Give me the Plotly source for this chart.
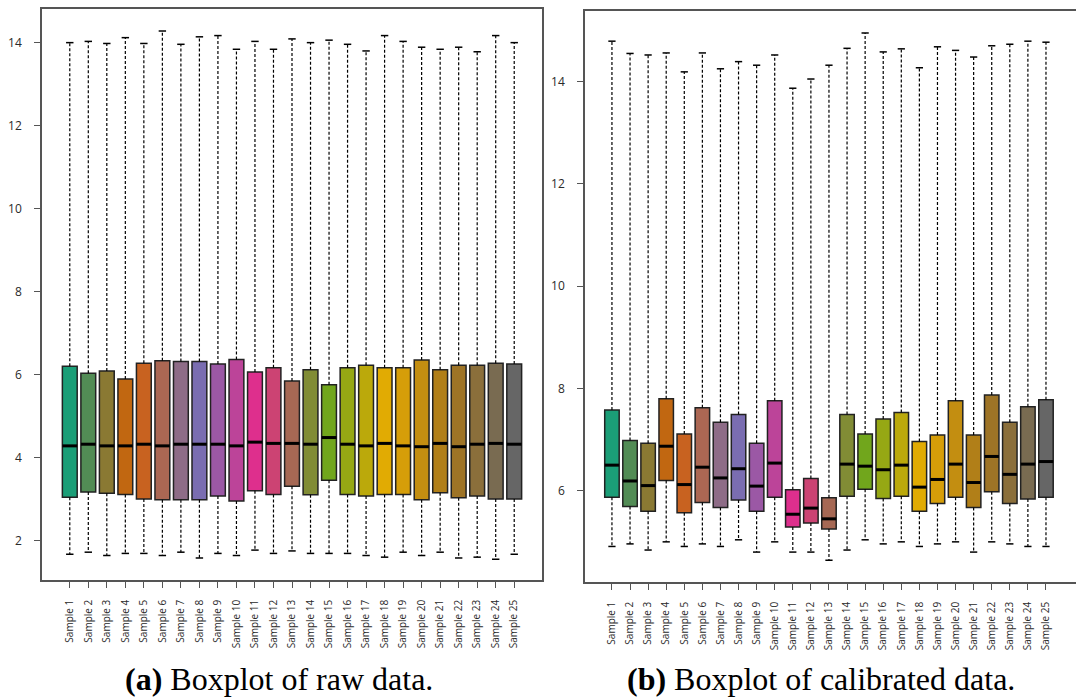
import plotly.graph_objects as go

samples = [f"Sample {i}" for i in range(1, 26)]
positions = list(range(1, 26))

# Raw data (panel a)
raw_upper = [14.00, 14.03, 13.98, 14.12, 13.98, 14.28, 13.96, 14.14, 14.17, 13.84,
             14.03, 13.84, 14.09, 14.00, 14.06, 13.96, 13.80, 14.17, 14.03, 13.89,
             13.84, 13.89, 13.78, 14.17, 14.00]
raw_q3 = [6.21, 6.04, 6.09, 5.90, 6.28, 6.34, 6.32, 6.32, 6.26, 6.37,
          6.07, 6.17, 5.85, 6.12, 5.76, 6.17, 6.23, 6.17, 6.17, 6.36,
          6.12, 6.23, 6.23, 6.28, 6.26]
raw_median = [4.29, 4.33, 4.29, 4.29, 4.33, 4.29, 4.33, 4.33, 4.33, 4.29,
              4.38, 4.35, 4.35, 4.33, 4.49, 4.33, 4.29, 4.35, 4.29, 4.27,
              4.35, 4.27, 4.33, 4.35, 4.33]
raw_q1 = [3.05, 3.18, 3.15, 3.12, 3.01, 2.99, 2.99, 2.99, 3.08, 2.96,
          3.21, 3.12, 3.32, 3.11, 3.46, 3.12, 3.08, 3.12, 3.12, 2.99,
          3.16, 3.04, 3.08, 3.01, 3.01]
raw_lower = [1.68, 1.73, 1.65, 1.70, 1.70, 1.65, 1.73, 1.59, 1.70, 1.65,
             1.78, 1.70, 1.76, 1.70, 1.70, 1.70, 1.65, 1.61, 1.73, 1.65,
             1.73, 1.59, 1.61, 1.56, 1.68]

# Calibrated data (panel b)
cal_upper = [14.79, 14.55, 14.52, 14.56, 14.19, 14.56, 14.25, 14.39, 14.32, 14.52,
             13.87, 14.05, 14.32, 14.65, 14.95, 14.58, 14.64, 14.27, 14.68, 14.61,
             14.48, 14.70, 14.73, 14.79, 14.77]
cal_q3 = [7.58, 6.98, 6.93, 7.80, 7.11, 7.62, 7.34, 7.49, 6.93, 7.76,
          6.02, 6.24, 5.86, 7.49, 7.11, 7.40, 7.53, 6.96, 7.09, 7.76,
          7.09, 7.87, 7.34, 7.64, 7.78]
cal_median = [6.50, 6.19, 6.10, 6.87, 6.12, 6.46, 6.25, 6.43, 6.09, 6.54,
              5.54, 5.66, 5.45, 6.52, 6.48, 6.41, 6.50, 6.07, 6.22, 6.52,
              6.16, 6.67, 6.32, 6.52, 6.57]
cal_q1 = [5.87, 5.69, 5.60, 6.20, 5.57, 5.77, 5.67, 5.82, 5.60, 5.87,
          5.29, 5.37, 5.25, 5.89, 6.03, 5.85, 5.89, 5.60, 5.75, 5.87,
          5.67, 5.98, 5.75, 5.84, 5.87]
cal_lower = [4.91, 4.96, 4.84, 5.00, 4.91, 4.96, 4.91, 5.04, 4.80, 5.00,
             4.80, 4.80, 4.64, 4.84, 5.04, 4.96, 5.00, 4.91, 4.96, 5.00,
             4.80, 5.00, 4.96, 4.91, 4.91]

raw_yticks = [2, 4, 6, 8, 10, 12, 14]
cal_yticks = [6, 8, 10, 12, 14]

# Dark2 colour ramp (25 colours)
dark2 = ["#1B9E77", "#D95F02", "#7570B3", "#E7298A", "#66A61E", "#E6AB02", "#A6761D", "#666666"]


def ramp(base, n):
    rgb = [tuple(int(c[i:i + 2], 16) for i in (1, 3, 5)) for c in base]
    out = []
    for k in range(n):
        p = k * (len(base) - 1) / (n - 1)
        i = min(int(p), len(base) - 2)
        t = p - i
        c = [round(rgb[i][j] + (rgb[i + 1][j] - rgb[i][j]) * t) for j in range(3)]
        out.append("#%02X%02X%02X" % tuple(c))
    return out


colors = ramp(dark2, 25)

fig = go.Figure()

CAP = 0.2


def add_panel(xa, ya, upper, q3, med, q1, lower):
    # whiskers (dashed)
    wx, wy = [], []
    for x, u, a, b, l in zip(positions, upper, q3, q1, lower):
        wx += [x, x, None, x, x, None]
        wy += [a, u, None, b, l, None]
    fig.add_trace(go.Scatter(x=wx, y=wy, mode="lines", xaxis=xa, yaxis=ya,
                             line=dict(color="black", width=1.2, dash="3px,2px"),
                             hoverinfo="skip", showlegend=False))
    # caps
    cx, cy = [], []
    for x, u, l in zip(positions, upper, lower):
        cx += [x - CAP, x + CAP, None, x - CAP, x + CAP, None]
        cy += [u, u, None, l, l, None]
    fig.add_trace(go.Scatter(x=cx, y=cy, mode="lines", xaxis=xa, yaxis=ya,
                             line=dict(color="black", width=1.5),
                             hoverinfo="skip", showlegend=False))
    # boxes
    for i, x in enumerate(positions):
        fig.add_trace(go.Box(x=[x], q1=[q1[i]], median=[med[i]], q3=[q3[i]],
                             lowerfence=[q1[i]], upperfence=[q3[i]],
                             width=0.8, fillcolor=colors[i],
                             line=dict(color="#222222", width=1.5),
                             xaxis=xa, yaxis=ya, showlegend=False,
                             name=samples[i]))
    # medians (thick)
    mx, my = [], []
    for x, m in zip(positions, med):
        mx += [x - 0.4, x + 0.4, None]
        my += [m, m, None]
    fig.add_trace(go.Scatter(x=mx, y=my, mode="lines", xaxis=xa, yaxis=ya,
                             line=dict(color="black", width=3),
                             hoverinfo="skip", showlegend=False))


add_panel("x", "y", raw_upper, raw_q3, raw_median, raw_q1, raw_lower)
add_panel("x2", "y2", cal_upper, cal_q3, cal_median, cal_q1, cal_lower)

W, H = 1076, 697
AX = "#555555"
TXT = "#2a2a2a"


def common_x():
    return dict(tickmode="array", tickvals=positions, ticktext=samples, tickangle=-90,
                ticks="outside", ticklen=6, tickcolor=AX, tickwidth=1.3,
                showline=True, linecolor=AX, linewidth=1.5, showgrid=False,
                zeroline=False, color=TXT,
                tickfont=dict(family="Open Sans", size=10, color=TXT), ticklabelstandoff=8)


def common_y():
    return dict(tickmode="array", ticks="outside", ticklen=6, tickcolor=AX, tickwidth=1.3,
                showline=True, linecolor=AX, linewidth=1.5, showgrid=False,
                zeroline=False, color=TXT,
                tickfont=dict(family="Open Sans", size=12, color=TXT), ticklabelstandoff=10)


fig.update_layout(
    width=W, height=H, autosize=False,
    margin=dict(l=0, r=0, t=0, b=0),
    paper_bgcolor="white", plot_bgcolor="white",
    boxmode="overlay",
    xaxis=dict(domain=[42 / W, 542 / W], range=[-0.5, 26.5], mirror=True, anchor="y", **common_x()),
    yaxis=dict(domain=[1 - 580 / H, 1 - 9 / H], range=[1.06, 14.81], mirror=True,
               tickvals=raw_yticks, anchor="x", **common_y()),
    xaxis2=dict(domain=[585 / W, 1.0], range=[-0.49, 26.66], mirror=True, anchor="y2", **common_x()),
    yaxis2=dict(domain=[1 - 582 / H, 1 - 11 / H], range=[4.215, 15.38], mirror=False,
                tickvals=cal_yticks, anchor="x2", **common_y()),
    annotations=[
        dict(text="<b>(a)</b> Boxplot of raw data.", x=279 / W, y=1 - 679 / H,
             xref="paper", yref="paper", showarrow=False, xanchor="center", yanchor="middle",
             font=dict(family="Liberation Serif", size=32, color="black")),
        dict(text="<b>(b)</b> Boxplot of calibrated data.", x=821 / W, y=1 - 679 / H,
             xref="paper", yref="paper", showarrow=False, xanchor="center", yanchor="middle",
             font=dict(family="Liberation Serif", size=32, color="black")),
    ],
)

fig.write_html("out.html")
